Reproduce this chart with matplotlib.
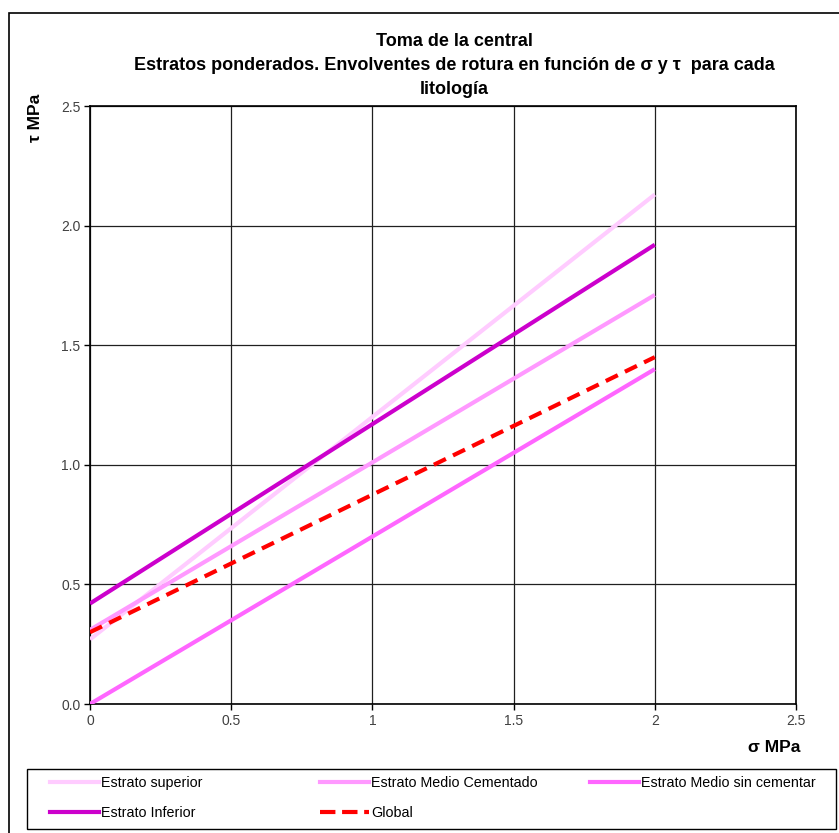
import matplotlib
matplotlib.use("Agg")
import matplotlib.pyplot as plt
from matplotlib.patches import Rectangle
from matplotlib.lines import Line2D

# Normal stress (MPa) at the ends of each failure envelope
sigma = [0.0, 2.0]

# Shear stress (MPa) at sigma = 0 and sigma = 2 for each lithology
tau_superior = [0.27, 2.13]
tau_medio_cementado = [0.31, 1.71]
tau_medio_sin_cementar = [0.00, 1.40]
tau_inferior = [0.42, 1.92]
tau_global = [0.30, 1.45]

series_names = ["Estrato superior", "Estrato Medio Cementado",
                "Estrato Medio sin cementar", "Estrato Inferior", "Global"]

x_ticks = [0, 0.5, 1, 1.5, 2, 2.5]
x_tick_labels = ["0", "0.5", "1", "1.5", "2", "2.5"]
y_ticks = [0.0, 0.5, 1.0, 1.5, 2.0, 2.5]
y_tick_labels = ["0.0", "0.5", "1.0", "1.5", "2.0", "2.5"]

plt.rcParams["font.family"] = ["Liberation Sans", "DejaVu Sans"]

W, H = 839, 833
fig = plt.figure(figsize=(W / 100, H / 100), dpi=100)

# outer chart frame
fig.patches.append(Rectangle((9 / W, -0.1), 1.0, 1 - 13 / H + 0.1,
                             transform=fig.transFigure, fill=False,
                             edgecolor="black", linewidth=1.2))

ax = fig.add_axes([90 / W, 1 - 704 / H, (796 - 90) / W, (704 - 106) / H])

styles = [
    (tau_superior, "#FFCCFF", "-"),
    (tau_medio_cementado, "#FF99FF", "-"),
    (tau_medio_sin_cementar, "#FF66FF", "-"),
    (tau_inferior, "#CC00CC", "-"),
    (tau_global, "#FF0000", (0, (3.2, 1.9))),
]
handles = []
for (vals, col, ls), name in zip(styles, series_names):
    ln, = ax.plot(sigma, vals, color=col, linestyle=ls, linewidth=3,
                  solid_capstyle="butt", label=name, zorder=3)
    handles.append(ln)

ax.set_xlim(0, 2.5)
ax.set_ylim(0, 2.5)
ax.set_xticks(x_ticks)
ax.set_xticklabels(x_tick_labels)
ax.set_yticks(y_ticks)
ax.set_yticklabels(y_tick_labels)
ax.grid(True, color="#202020", linewidth=0.9)
ax.set_axisbelow(True)
for s in ax.spines.values():
    s.set_color("black")
    s.set_linewidth(1.2)
ax.tick_params(direction="out", length=4, width=1, colors="black",
               labelsize=10, labelcolor="#404040", pad=3)

fig.text(800 / W, 1 - 747 / H, "σ MPa", ha="right", va="center",
         fontsize=12.5, fontweight="bold")
fig.text(35 / W, 1 - 118 / H, "τ MPa", ha="center", va="center",
         rotation=90, fontsize=12.5, fontweight="bold")

fig.text(454 / W, 1 - 65.5 / H,
         "Toma de la central\n"
         "Estratos ponderados. Envolventes de rotura en función de σ y τ  para cada\n"
         "litología",
         ha="center", va="center", fontsize=13, fontweight="bold",
         linespacing=1.55)

# legend box
fig.patches.append(Rectangle((27 / W, 1 - 829 / H), (836 - 27) / W, (829 - 769) / H,
                             transform=fig.transFigure, fill=False,
                             edgecolor="black", linewidth=1.0))

columns = [([0, 3], 50), ([1, 4], 320), ([2], 590)]
for idx, xpix in columns:
    hs = [Line2D([], [], color=handles[i].get_color(),
                 linestyle=handles[i].get_linestyle(), linewidth=3)
          for i in idx]
    fig.legend(hs, [series_names[i] for i in idx],
               loc="upper left",
               bbox_to_anchor=(xpix / W, 1 - 776 / H),
               frameon=False, handlelength=3.4, handletextpad=0.15,
               borderpad=0, borderaxespad=0, labelspacing=1.1,
               prop={"size": 10.3})

fig.savefig("out.png", dpi=100, facecolor="white")
